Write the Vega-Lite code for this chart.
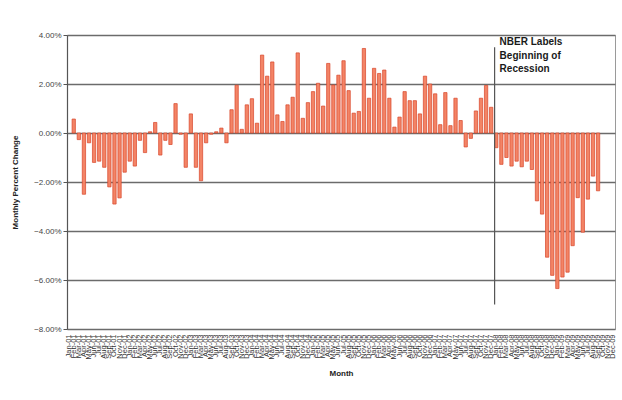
{
  "$schema": "https://vega.github.io/schema/vega-lite/v6.json",
  "width": 548,
  "height": 294,
  "autosize": "none",
  "padding": {"left": 67, "top": 35, "right": 7, "bottom": 71},
  "background": "white",
  "config": {
    "view": {"stroke": "#9a9a9a", "strokeWidth": 1},
    "font": "Liberation Sans"
  },
  "datasets": {
    "changes": [
      {"month": "Feb-01", "pct": 0.57}, {"month": "Mar-01", "pct": -0.27}, {"month": "Apr-01", "pct": -2.5},
      {"month": "May-01", "pct": -0.4}, {"month": "Jun-01", "pct": -1.2}, {"month": "Jul-01", "pct": -1.15},
      {"month": "Aug-01", "pct": -1.4}, {"month": "Sep-01", "pct": -2.2}, {"month": "Oct-01", "pct": -2.9},
      {"month": "Nov-01", "pct": -2.65}, {"month": "Dec-01", "pct": -1.6},
      {"month": "Jan-02", "pct": -1.15}, {"month": "Feb-02", "pct": -1.35}, {"month": "Mar-02", "pct": -0.3},
      {"month": "Apr-02", "pct": -0.8}, {"month": "May-02", "pct": 0.05}, {"month": "Jun-02", "pct": 0.43},
      {"month": "Jul-02", "pct": -0.9}, {"month": "Aug-02", "pct": -0.3}, {"month": "Sep-02", "pct": -0.47},
      {"month": "Oct-02", "pct": 1.2}, {"month": "Nov-02", "pct": -0.05}, {"month": "Dec-02", "pct": -1.4},
      {"month": "Jan-03", "pct": 0.78}, {"month": "Feb-03", "pct": -1.4}, {"month": "Mar-03", "pct": -1.95},
      {"month": "Apr-03", "pct": -0.4}, {"month": "May-03", "pct": -0.05}, {"month": "Jun-03", "pct": 0.05},
      {"month": "Jul-03", "pct": 0.2}, {"month": "Aug-03", "pct": -0.4}, {"month": "Sep-03", "pct": 0.95},
      {"month": "Oct-03", "pct": 1.95}, {"month": "Nov-03", "pct": 0.15}, {"month": "Dec-03", "pct": 1.15},
      {"month": "Jan-04", "pct": 1.4}, {"month": "Feb-04", "pct": 0.4}, {"month": "Mar-04", "pct": 3.18},
      {"month": "Apr-04", "pct": 2.32}, {"month": "May-04", "pct": 2.9}, {"month": "Jun-04", "pct": 0.74},
      {"month": "Jul-04", "pct": 0.47}, {"month": "Aug-04", "pct": 1.15}, {"month": "Sep-04", "pct": 1.46},
      {"month": "Oct-04", "pct": 3.27}, {"month": "Nov-04", "pct": 0.6}, {"month": "Dec-04", "pct": 1.24},
      {"month": "Jan-05", "pct": 1.69}, {"month": "Feb-05", "pct": 2.03}, {"month": "Mar-05", "pct": 1.1},
      {"month": "Apr-05", "pct": 2.84}, {"month": "May-05", "pct": 1.96}, {"month": "Jun-05", "pct": 2.36},
      {"month": "Jul-05", "pct": 2.95}, {"month": "Aug-05", "pct": 1.73}, {"month": "Sep-05", "pct": 0.81},
      {"month": "Oct-05", "pct": 0.88}, {"month": "Nov-05", "pct": 3.45}, {"month": "Dec-05", "pct": 1.42},
      {"month": "Jan-06", "pct": 2.64}, {"month": "Feb-06", "pct": 2.43}, {"month": "Mar-06", "pct": 2.57},
      {"month": "Apr-06", "pct": 1.42}, {"month": "May-06", "pct": 0.24}, {"month": "Jun-06", "pct": 0.65},
      {"month": "Jul-06", "pct": 1.69}, {"month": "Aug-06", "pct": 1.32}, {"month": "Sep-06", "pct": 1.32},
      {"month": "Oct-06", "pct": 0.78}, {"month": "Nov-06", "pct": 2.32}, {"month": "Dec-06", "pct": 2.0},
      {"month": "Jan-07", "pct": 1.6}, {"month": "Feb-07", "pct": 0.34}, {"month": "Mar-07", "pct": 1.65},
      {"month": "Apr-07", "pct": 0.3}, {"month": "May-07", "pct": 1.42}, {"month": "Jun-07", "pct": 0.51},
      {"month": "Jul-07", "pct": -0.57}, {"month": "Aug-07", "pct": -0.22}, {"month": "Sep-07", "pct": 0.9},
      {"month": "Oct-07", "pct": 1.42}, {"month": "Nov-07", "pct": 1.94}, {"month": "Dec-07", "pct": 1.05},
      {"month": "Jan-08", "pct": -0.6}, {"month": "Feb-08", "pct": -1.28}, {"month": "Mar-08", "pct": -1.0},
      {"month": "Apr-08", "pct": -1.35}, {"month": "May-08", "pct": -1.15}, {"month": "Jun-08", "pct": -1.38},
      {"month": "Jul-08", "pct": -1.15}, {"month": "Aug-08", "pct": -1.49}, {"month": "Sep-08", "pct": -2.77},
      {"month": "Oct-08", "pct": -3.31}, {"month": "Nov-08", "pct": -5.07}, {"month": "Dec-08", "pct": -5.81},
      {"month": "Jan-09", "pct": -6.35}, {"month": "Feb-09", "pct": -5.88}, {"month": "Mar-09", "pct": -5.68},
      {"month": "Apr-09", "pct": -4.6}, {"month": "May-09", "pct": -2.64}, {"month": "Jun-09", "pct": -4.05},
      {"month": "Jul-09", "pct": -2.7}, {"month": "Aug-09", "pct": -1.76}, {"month": "Sep-09", "pct": -2.36}
    ],
    "recession": [
      {"month": "Jan-08", "top": 3.5, "bottom": -7.0, "labelY": 3.9, "label": "NBER Labels\nBeginning of\nRecession"}
    ]
  },
  "layer": [
    {
      "data": {"name": "changes"},
      "mark": {"type": "bar", "color": "#f38466", "stroke": "#d8452a", "strokeWidth": 0.7},
      "encoding": {
        "x": {
          "field": "month",
          "type": "nominal",
          "scale": {
            "domain": ["Jan-01","Feb-01","Mar-01","Apr-01","May-01","Jun-01","Jul-01","Aug-01","Sep-01","Oct-01","Nov-01","Dec-01",
                       "Jan-02","Feb-02","Mar-02","Apr-02","May-02","Jun-02","Jul-02","Aug-02","Sep-02","Oct-02","Nov-02","Dec-02",
                       "Jan-03","Feb-03","Mar-03","Apr-03","May-03","Jun-03","Jul-03","Aug-03","Sep-03","Oct-03","Nov-03","Dec-03",
                       "Jan-04","Feb-04","Mar-04","Apr-04","May-04","Jun-04","Jul-04","Aug-04","Sep-04","Oct-04","Nov-04","Dec-04",
                       "Jan-05","Feb-05","Mar-05","Apr-05","May-05","Jun-05","Jul-05","Aug-05","Sep-05","Oct-05","Nov-05","Dec-05",
                       "Jan-06","Feb-06","Mar-06","Apr-06","May-06","Jun-06","Jul-06","Aug-06","Sep-06","Oct-06","Nov-06","Dec-06",
                       "Jan-07","Feb-07","Mar-07","Apr-07","May-07","Jun-07","Jul-07","Aug-07","Sep-07","Oct-07","Nov-07","Dec-07",
                       "Jan-08","Feb-08","Mar-08","Apr-08","May-08","Jun-08","Jul-08","Aug-08","Sep-08","Oct-08","Nov-08","Dec-08",
                       "Jan-09","Feb-09","Mar-09","Apr-09","May-09","Jun-09","Jul-09","Aug-09","Sep-09","Oct-09","Nov-09","Dec-09"],
            "paddingInner": 0.35,
            "paddingOuter": 0
          },
          "axis": {
            "title": "Month",
            "labelAngle": -90,
            "labelFontSize": 7.5,
            "labelColor": "#333333",
            "labelOverlap": false,
            "ticks": false,
            "domain": false,
            "grid": false,
            "labelPadding": 5,
            "titleFontSize": 8,
            "titleFontWeight": "bold",
            "titleColor": "#222222",
            "titlePadding": 10
          }
        },
        "y": {
          "field": "pct",
          "type": "quantitative",
          "scale": {"domain": [-8, 4], "nice": false},
          "axis": {
            "title": "Monthly Percent Change",
            "values": [-8, -6, -4, -2, 0, 2, 4],
            "labelExpr": "format(datum.value, '.2f') + '%'",
            "labelFontSize": 8,
            "labelColor": "#444444",
            "gridColor": "#6b6b6b",
            "gridWidth": 1.3,
            "domainColor": "#555555",
            "domainWidth": 1.2,
            "tickColor": "#555555",
            "tickSize": 4,
            "labelPadding": 2,
            "titleFontSize": 8,
            "titleFontWeight": "bold",
            "titleColor": "#222222",
            "titlePadding": 14
          }
        }
      }
    },
    {
      "data": {"name": "recession"},
      "mark": {"type": "rule", "color": "#555555", "strokeWidth": 1.2},
      "encoding": {
        "x": {"field": "month", "type": "nominal", "bandPosition": 0},
        "y": {"field": "top", "type": "quantitative"},
        "y2": {"field": "bottom"}
      }
    },
    {
      "data": {"name": "recession"},
      "mark": {"type": "text", "align": "left", "baseline": "top", "dx": 5, "fontSize": 10, "fontWeight": "bold", "lineHeight": 13.5, "lineBreak": "\n", "color": "#1a1a1a"},
      "encoding": {
        "x": {"field": "month", "type": "nominal", "bandPosition": 0},
        "y": {"field": "labelY", "type": "quantitative"},
        "text": {"field": "label"}
      }
    }
  ]
}
